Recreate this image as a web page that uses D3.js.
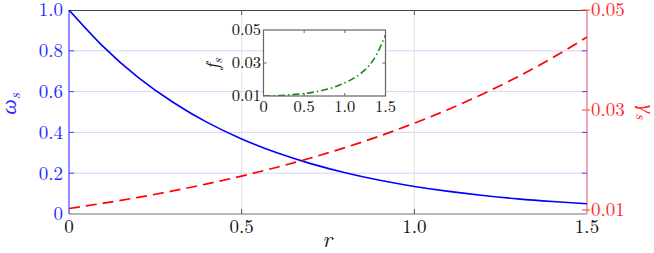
<!DOCTYPE html>
<html><head><meta charset="utf-8">
<script src="https://cdn.jsdelivr.net/npm/d3@7"></script>
</head>
<body style="margin:0;background:#fff">
<svg id="chart" width="654" height="253"></svg>
<script>
// ---- data ----
const rValues = [0,0.1,0.2,0.3,0.4,0.5,0.6,0.7,0.8,0.9,1.0,1.1,1.2,1.3,1.4,1.5];
const omegaS = [1.0,0.819,0.670,0.549,0.449,0.368,0.301,0.247,0.202,0.165,0.135,0.111,0.091,0.074,0.061,0.050];
const gammaS = [0.0103,0.01136,0.01252,0.01381,0.01523,0.01679,0.01851,0.02041,0.02250,0.02481,0.02736,0.03016,0.03326,0.03667,0.04043,0.04458];
const fS = [0.0100,0.0101,0.0103,0.0106,0.0110,0.0115,0.0122,0.0131,0.0143,0.0159,0.0180,0.0205,0.0238,0.0285,0.0360,0.0470];
const xTicks = [0,0.5,1.0,1.5];
const xTickLabels = ["0","0.5","1.0","1.5"];
const leftTicks = [0,0.2,0.4,0.6,0.8,1.0];
const leftTickLabels = ["0","0.2","0.4","0.6","0.8","1.0"];
const rightTicks = [0.01,0.03,0.05];
const rightTickLabels = ["0.01","0.03","0.05"];
const insetXTicks = [0,0.5,1.0,1.5];
const insetXTickLabels = ["0","0.5","1.0","1.5"];
const insetYTicks = [0.01,0.03,0.05];
const insetYTickLabels = ["0.01","0.03","0.05"];

const FONT = '"Latin Modern Roman","CMU Serif","Liberation Serif",serif';
const svg = d3.select("#chart").style("font-family",FONT);
function txt(){ return svg.append("text").style("font-family",FONT); }

const L = 69, R = 587, T = 10, B = 214;
const x = d3.scaleLinear().domain([0,1.5]).range([L,R]);
const yL = d3.scaleLinear().domain([0,1]).range([B,T]);
const yR = d3.scaleLinear().domain([0.0092,0.05]).range([B,T]);

const blue = "#0000ff", red = "#ff0000";

svg.append("defs").append("clipPath").attr("id","clipMain")
  .append("rect").attr("x",L).attr("y",T).attr("width",R-L).attr("height",B-T);

// grid
svg.append("g").selectAll("line").data(leftTicks.filter(d=>d>0&&d<1)).join("line")
  .attr("x1",L).attr("x2",R).attr("y1",d=>yL(d)).attr("y2",d=>yL(d))
  .attr("stroke","#d6d6ff").attr("stroke-width",1);
svg.append("g").selectAll("line").data(xTicks.filter(d=>d>0&&d<1.5)).join("line")
  .attr("x1",d=>x(d)).attr("x2",d=>x(d)).attr("y1",T).attr("y2",B)
  .attr("stroke","#e2e2e2").attr("stroke-width",1);

// frame
svg.append("line").attr("x1",L).attr("x2",R).attr("y1",T+0.5).attr("y2",T+0.5).attr("stroke","#444").attr("stroke-width",1);
svg.append("line").attr("x1",L).attr("x2",R).attr("y1",B).attr("y2",B).attr("stroke","#a0a0a0").attr("stroke-width",1.5);
svg.append("line").attr("x1",L).attr("x2",L).attr("y1",T).attr("y2",B).attr("stroke","#4444ff").attr("stroke-width",1.2);
svg.append("line").attr("x1",R).attr("x2",R).attr("y1",T).attr("y2",B).attr("stroke","#f08898").attr("stroke-width",1.5);

// x ticks
xTicks.forEach((d,i)=>{
  if(d>0 && d<1.5){
    svg.append("line").attr("x1",x(d)).attr("x2",x(d)).attr("y1",B).attr("y2",B-5).attr("stroke","#555");
    svg.append("line").attr("x1",x(d)).attr("x2",x(d)).attr("y1",T).attr("y2",T+5).attr("stroke","#555");
  }
  txt().attr("x",x(d)).attr("y",233).attr("text-anchor","middle")
    .attr("font-size",19).attr("fill","#111").text(xTickLabels[i]);
});
// left ticks
leftTicks.forEach((d,i)=>{
  if(d>0 && d<1){
    svg.append("line").attr("x1",L).attr("x2",L+5).attr("y1",yL(d)).attr("y2",yL(d)).attr("stroke","#4444ff");
    svg.append("line").attr("x1",R).attr("x2",R-5).attr("y1",yL(d)).attr("y2",yL(d)).attr("stroke","#4444ff");
  }
  txt().attr("x",63).attr("y",yL(d)+6.3).attr("text-anchor","end")
    .attr("font-size",19).attr("fill","#2a2aff").text(leftTickLabels[i]);
});
// right ticks
rightTicks.forEach((d,i)=>{
  svg.append("line").attr("x1",R-5).attr("x2",R+3).attr("y1",yR(d)).attr("y2",yR(d)).attr("stroke","#ff4040");
  txt().attr("x",591).attr("y",yR(d)+6.3).attr("text-anchor","start")
    .attr("font-size",19).attr("fill","#ff2a2a").text(rightTickLabels[i]);
});

// curves
const gC = svg.append("g").attr("clip-path","url(#clipMain)");
gC.append("path").datum(rValues.map((r,i)=>[r,omegaS[i]]))
  .attr("d",d3.line().x(d=>x(d[0])).y(d=>yL(d[1])).curve(d3.curveNatural))
  .attr("fill","none").attr("stroke",blue).attr("stroke-width",1.6);
gC.append("path").datum(rValues.map((r,i)=>[r,gammaS[i]]))
  .attr("d",d3.line().x(d=>x(d[0])).y(d=>yR(d[1])).curve(d3.curveNatural))
  .attr("fill","none").attr("stroke",red).attr("stroke-width",1.7).attr("stroke-dasharray","11,6");

// axis labels
txt().attr("transform","translate(16,104) rotate(-90)").attr("text-anchor","middle")
  .attr("font-size",22).attr("font-style","italic").attr("fill","#2a2aff")
  .html('ω<tspan font-size="15" dy="4">s</tspan>');
txt().attr("transform","translate(640,112) rotate(90)").attr("text-anchor","middle")
  .attr("font-size",22).attr("font-style","italic").attr("fill","#ff2a2a")
  .html('γ<tspan font-size="15" dy="4">s</tspan>');
txt().attr("x",327).attr("y",247).attr("text-anchor","middle")
  .attr("font-size",23).attr("font-style","italic").attr("fill","#111").text("r");

// inset
const iL = 263.5, iR = 385.5, iT = 30, iB = 96;
const xi = d3.scaleLinear().domain([0,1.5]).range([iL,iR]);
const yi = d3.scaleLinear().domain([0.01,0.05]).range([iB,iT]);
svg.append("rect").attr("x",iL).attr("y",iT).attr("width",iR-iL).attr("height",iB-iT).attr("fill","#fff");
svg.append("defs").append("clipPath").attr("id","clipInset")
  .append("rect").attr("x",iL).attr("y",iT).attr("width",iR-iL).attr("height",iB-iT);
svg.append("path").datum(rValues.map((r,i)=>[r,fS[i]]))
  .attr("clip-path","url(#clipInset)")
  .attr("d",d3.line().x(d=>xi(d[0])).y(d=>yi(d[1])).curve(d3.curveNatural))
  .attr("fill","none").attr("stroke","#108a10").attr("stroke-width",1.6).attr("stroke-dasharray","7,3,1.5,3");
svg.append("rect").attr("x",iL).attr("y",iT).attr("width",iR-iL).attr("height",iB-iT)
  .attr("fill","none").attr("stroke","#666").attr("stroke-width",1.2);
insetXTicks.forEach((d,i)=>{
  if(d>0 && d<1.5){
    svg.append("line").attr("x1",xi(d)).attr("x2",xi(d)).attr("y1",iB).attr("y2",iB-3).attr("stroke","#666");
    svg.append("line").attr("x1",xi(d)).attr("x2",xi(d)).attr("y1",iT).attr("y2",iT+3).attr("stroke","#666");
  }
  txt().attr("x",xi(d)).attr("y",112).attr("text-anchor","middle")
    .attr("font-size",16.5).attr("fill","#111").text(insetXTickLabels[i]);
});
insetYTicks.forEach((d,i)=>{
  if(d>0.01 && d<0.05){
    svg.append("line").attr("x1",iL).attr("x2",iL+3).attr("y1",yi(d)).attr("y2",yi(d)).attr("stroke","#666");
    svg.append("line").attr("x1",iR).attr("x2",iR-3).attr("y1",yi(d)).attr("y2",yi(d)).attr("stroke","#666");
  }
  txt().attr("x",261).attr("y",yi(d)+5.3).attr("text-anchor","end")
    .attr("font-size",16.5).attr("fill","#111").text(insetYTickLabels[i]);
});
txt().attr("transform","translate(219,64) rotate(-90)").attr("text-anchor","middle")
  .attr("font-size",19).attr("font-style","italic").attr("fill","#111")
  .html('f<tspan font-size="13" dy="3">s</tspan>');
</script>
</body></html>
